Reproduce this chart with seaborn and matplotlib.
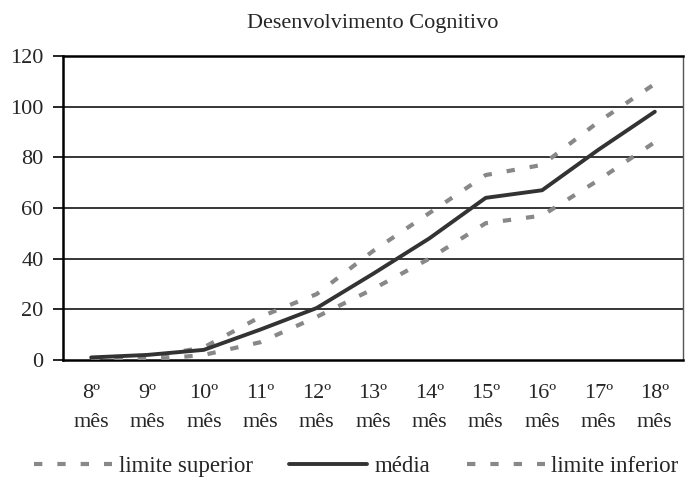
import matplotlib
matplotlib.use("Agg")
import matplotlib.pyplot as plt
import seaborn as sns
import pandas as pd
import numpy as np

# dados
meses = [8, 9, 10, 11, 12, 13, 14, 15, 16, 17, 18]
limite_superior = [0, 1, 5, 17, 26, 43, 58, 73, 77, 94, 109]
media = [1, 2, 4, 12, 20.5, 34, 48, 64, 67, 83, 98]
limite_inferior = [0, 0, 2, 7, 17, 28, 40, 54, 57, 71, 86]
rotulos_x = [f"{m}º\nmês" for m in meses]
ticks_y = [0, 20, 40, 60, 80, 100, 120]

sns.set_style("white")
plt.rcParams['font.family'] = ['Liberation Serif', 'DejaVu Serif']

df = pd.DataFrame({'mes': meses, 'sup': limite_superior,
                   'media': media, 'inf': limite_inferior})

fig = plt.figure(figsize=(6.92, 4.83), dpi=100)
ax = fig.add_axes([0.091, 0.2547, 0.896, 0.6294])

for y in ticks_y[1:]:
    ax.axhline(y, color='black', lw=1.1, zorder=1)

tracejado = (0, (2, 3.6))
sns.lineplot(data=df, x='mes', y='sup', ax=ax, color='#888888', lw=3,
             linestyle=tracejado, label='limite superior', zorder=3)
sns.lineplot(data=df, x='mes', y='media', ax=ax, color='#333333', lw=2.8,
             label='média', zorder=4)
sns.lineplot(data=df, x='mes', y='inf', ax=ax, color='#888888', lw=3,
             linestyle=tracejado, label='limite inferior', zorder=3)

ax.set_xlim(meses[0] - 0.5, meses[-1] + 0.5)
ax.set_ylim(0, 120)
ax.set_yticks(ticks_y)
ax.set_xticks(meses)
ax.set_xticklabels(rotulos_x, linespacing=1.72)
ax.set_xticks(np.arange(meses[0] - 0.5, meses[-1] + 1, 1), minor=True)
ax.tick_params(axis='x', which='major', length=0, pad=17, labelsize=16)
ax.tick_params(axis='x', which='minor', length=6, width=1.5, direction='out', color='black')
ax.tick_params(axis='y', length=7, width=1.2, direction='out', pad=7,
               labelsize=16, color='black', left=True)
ax.set_xlabel('')
ax.set_ylabel('')

for lado in ['left', 'bottom', 'top']:
    ax.spines[lado].set_color('black')
    ax.spines[lado].set_linewidth(1.8)
ax.spines['right'].set_color('#555555')
ax.spines['right'].set_linewidth(1.0)

ax.set_title('Desenvolvimento Cognitivo', fontsize=16, pad=20)

h, l = ax.get_legend_handles_labels()
if ax.legend_:
    ax.legend_.remove()
fig.legend(h, l, loc='center', bbox_to_anchor=(0.515, 0.035), ncol=3,
           frameon=False, fontsize=16.5, handlelength=3.4, handletextpad=0.3,
           columnspacing=1.6)

fig.savefig('out.png', dpi=100)
